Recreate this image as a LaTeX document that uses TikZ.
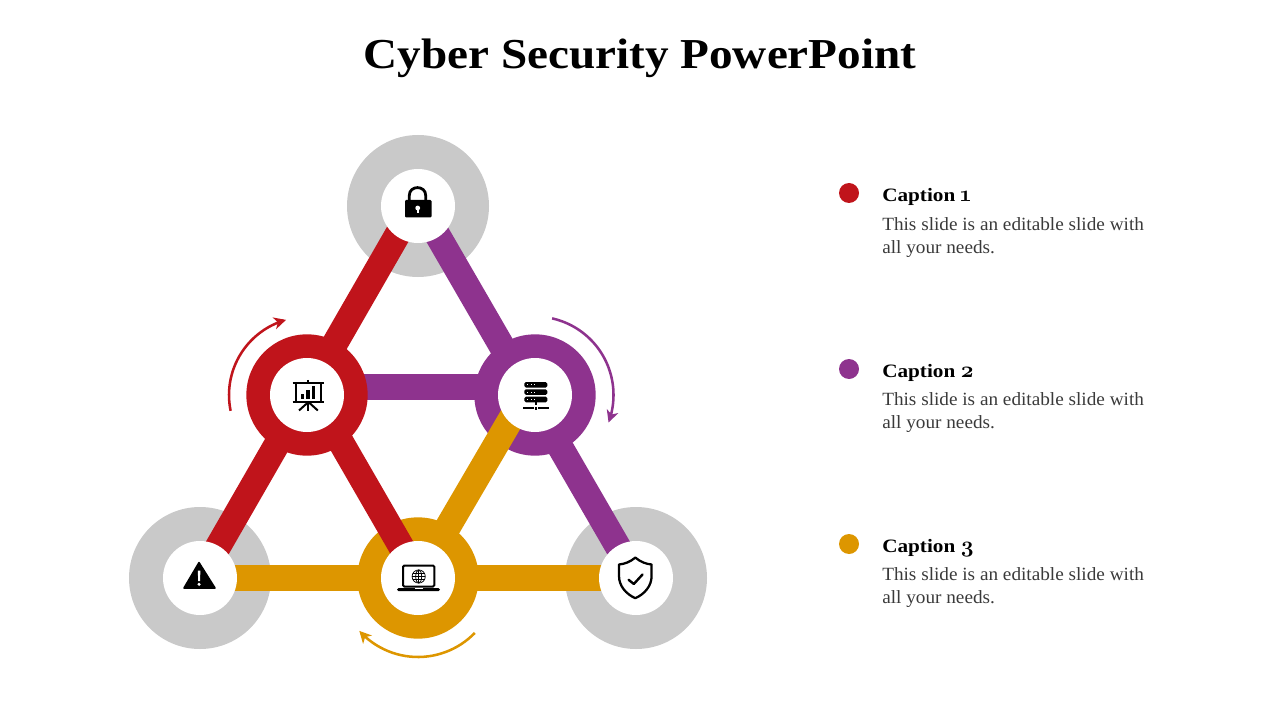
\documentclass[tikz,border=0pt]{standalone}
\usepackage{fontspec}
\usetikzlibrary{arrows.meta}
\setmainfont{Liberation Serif}
\newfontfamily\geo[FakeStretch=1.105]{Liberation Serif}
\newfontfamily\geocap[FakeStretch=1.12]{Liberation Serif}
\newfontfamily\geobody[FakeStretch=1.03]{Liberation Serif}
\newfontfamily\oldnum[Numbers=OldStyle]{Latin Modern Roman}
\definecolor{cred}{HTML}{C0141B}
\definecolor{cpur}{HTML}{8E338E}
\definecolor{cora}{HTML}{DD9600}
\definecolor{cgry}{HTML}{C9C9C9}
\definecolor{ctxt}{HTML}{3A3A3A}
\pgfdeclarelayer{lgray}\pgfdeclarelayer{lbarA}\pgfdeclarelayer{lring}\pgfdeclarelayer{lbarB}
\pgfsetlayers{lgray,lbarA,lring,lbarB,main}
\newcommand{\capnum}[1]{\hspace{3.6pt}{\oldnum\bfseries\fontsize{17}{17}\selectfont #1}}
\tikzset{
  hub/.style={circle,fill=white,inner sep=0pt,minimum size=55.5pt},
  halo/.style={circle,fill=cgry,inner sep=0pt,minimum size=106.5pt},
  ringnode/.style={circle,fill=#1,inner sep=0pt,minimum size=91pt},
  barline/.style={line width=19.5pt,draw=#1},
  turnline/.style={line width=1.9pt,draw=#1,-{Stealth[length=9pt,width=9pt,inset=2.6pt]}},
  dotnode/.style={circle,fill=#1,inner sep=0pt,minimum size=15pt},
  captext/.style={anchor=base west,inner sep=0pt,font=\geocap\bfseries\fontsize{14.2}{16}\selectfont,text=black},
  bodytext/.style={anchor=north west,inner sep=0pt,align=left,font=\geobody\fontsize{14}{17.2}\selectfont,text=ctxt},
  ink/.style={line width=1.5pt,draw=black,fill=none},
}
\begin{document}
\begin{tikzpicture}[x=0.75pt,y=-0.75pt]
\useasboundingbox (0,0) rectangle (1280,720);
% hubs
\node[hub] (hT) at (418,206) {};
\node[hub] (hL) at (200,578) {};
\node[hub] (hS) at (636,578) {};
\node[hub] (hR) at (307,395) {};
\node[hub] (hP) at (535,395) {};
\node[hub] (hO) at (418,578) {};
\begin{pgfonlayer}{lgray}
\node[halo] (gT) at (hT.center) {};
\node[halo] (gL) at (hL.center) {};
\node[halo] (gS) at (hS.center) {};
\end{pgfonlayer}
\begin{pgfonlayer}{lbarA}
\draw[barline=cred] ([xshift=-3pt]hT.center) -- (hL.center);
\draw[barline=cpur] ([xshift=2pt]hT.center) -- (hS.center);
\draw[barline=cpur] ([yshift=6pt]hR.center) -- ([yshift=6pt]hP.center);
\draw[barline=cora] (hL.center) -- (hS.center);
\end{pgfonlayer}
\begin{pgfonlayer}{lring}
\node[ringnode=cred] (rR) at (hR.center) {};
\node[ringnode=cpur] (rP) at (hP.center) {};
\node[ringnode=cora] (rO) at (hO.center) {};
\end{pgfonlayer}
\begin{pgfonlayer}{lbarB}
\draw[barline=cred] ([xshift=5pt]hR.center) -- ([xshift=1pt]hO.center);
\draw[barline=cora] ([xshift=-7.5pt]hP.center) -- (hO.center);
\end{pgfonlayer}
% turning arrows
\draw[turnline=cred] plot[smooth,samples=30,domain=168.3:254.4] ({307+78*cos(\x)},{395+78*sin(\x)});
\draw[turnline=cpur] plot[smooth,samples=30,domain=-77.4:20.5] ({535+78.5*cos(\x)},{395+78.5*sin(\x)});
\draw[turnline=cora] plot[smooth,samples=30,domain=44:138] ({418+79*cos(\x)},{578+79*sin(\x)});
% lock
\draw[line width=2.1pt] (409.3,201) -- (409.3,195.5) .. controls (409.3,185) and (425.7,185) .. (425.7,195.5) -- (425.7,201);
\fill[rounded corners=0.8pt] (405,200) rectangle (431.5,217.5);
\fill[white] (417.7,208) circle[radius=2.4];
\fill[white] (416.9,208) rectangle (418.5,213);
% presentation board
\draw[ink] (292.7,382.5) -- (324,382.5);
\draw[ink] (292.7,401.8) -- (324,401.8);
\draw[ink] (295.5,382.5) -- (295.5,401.8);
\draw[ink] (321.2,382.5) -- (321.2,401.8);
\draw[ink] (308.4,379.8) -- (308.4,382.5);
\draw[ink] (308.4,401.8) -- (308.4,411);
\draw[ink] (308.4,402) -- (299,410.5);
\draw[ink] (308.4,402) -- (317.8,410.5);
\fill (301,393.5) rectangle (304.3,399);
\fill (306.4,390) rectangle (309.8,399);
\fill (311.8,386) rectangle (315.2,399);
% server
\foreach \yy in {382,389.3,396.7}{
  \fill[rounded corners=1.2pt] (524.3,\yy) rectangle (547.3,\yy+5.6);
  \foreach \xx in {527.8,531.2,534.6}{\fill[white] (\xx-0.6,\yy+2.2) rectangle (\xx+0.6,\yy+3.4);}
}
\fill (523,406.8) rectangle (534,408.6);
\fill (538.3,406.8) rectangle (549.3,408.6);
\fill (535.2,402) rectangle (536.8,405);
\fill (535.2,406.8) rectangle (536.8,410);
% laptop
\draw[line width=1.5pt,rounded corners=1pt] (403,565.5) rectangle (434.4,586.5);
\fill[rounded corners=1pt] (397,588.2) rectangle (440,591);
\fill[white] (414.5,588.2) rectangle (422.5,589.2);
\draw[line width=0.55pt] (418.7,576.5) circle[radius=6.6];
\draw[line width=0.55pt] (418.7,576.5) ellipse[x radius=3,y radius=6.6];
\draw[line width=0.55pt] (418.7,569.9) -- (418.7,583.1);
\draw[line width=0.55pt] (412.1,576.5) -- (425.3,576.5);
\draw[line width=0.55pt] (413,573.2) -- (424.4,573.2);
\draw[line width=0.55pt] (413,579.8) -- (424.4,579.8);
% shield
\draw[line width=1.7pt,line join=round] (635.3,557.6) .. controls (630,562) and (624.5,564) .. (619,564.5) -- (619,576) .. controls (619,586) and (626,594) .. (635.3,598.2) .. controls (644.6,594) and (651.6,586) .. (651.6,576) -- (651.6,564.5) .. controls (646,564) and (640.6,562) .. (635.3,557.6) -- cycle;
\draw[line width=1.8pt,line cap=round,line join=round] (628.6,579.8) -- (633.8,584) -- (642.6,574.4);
% warning
\fill[line join=round,draw=black,line width=1.2pt] (199,562.6) -- (184,588) -- (215,588) -- cycle;
\fill[white] (197.8,570.5) -- (200.4,570.5) -- (200,581) -- (198.2,581) -- cycle;
\fill[white] (199.1,584.3) circle[radius=1.7];
% title and captions
\node[inner sep=0pt,anchor=base,font=\geo\bfseries\fontsize{32}{40}\selectfont,text=black] (title) at (640,69) {Cyber Security PowerPoint};
\node[dotnode=cred] (d1) at (849,193) {};
\node[dotnode=cpur] (d2) at (849,369) {};
\node[dotnode=cora] (d3) at (849,544) {};
\node[captext] (c1) at (882,202) {Caption\capnum{1}};
\node[captext] (c2) at (882,377) {Caption\capnum{2}};
\node[captext] (c3) at (882,552) {Caption\capnum{3}};
\node[bodytext] (b1) at (882,217.5) {This slide is an editable slide with\\all your needs.};
\node[bodytext] (b2) at (882,392.5) {This slide is an editable slide with\\all your needs.};
\node[bodytext] (b3) at (882,567.5) {This slide is an editable slide with\\all your needs.};
\end{tikzpicture}
\end{document}
